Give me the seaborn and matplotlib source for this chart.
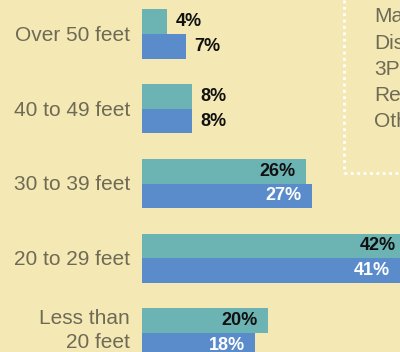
import matplotlib
matplotlib.use("Agg")
import matplotlib.pyplot as plt
from matplotlib.lines import Line2D
import seaborn as sns
import pandas as pd

# Boat length bands and the share of respondents in each, two survey groups
categories = ["Over 50 feet", "40 to 49 feet", "30 to 39 feet", "20 to 29 feet", "Less than\n20 feet"]
group_a = [4, 8, 26, 42, 20]
group_b = [7, 8, 27, 41, 18]
series_names = ["Group A", "Group B"]

# Entries of the side key
key_items = ["Manufacturer", "Distributor", "3PL", "Retailer", "Other"]

BG = "#f4e9b4"
TEAL = "#6cb3b3"
BLUE = "#5a8ccb"
GREY = "#6e6a55"

df = pd.DataFrame({
    "band": categories * 2,
    "share": group_a + group_b,
    "group": [series_names[0]] * len(categories) + [series_names[1]] * len(categories),
})

sns.set_theme(style="white")
plt.rcParams["font.family"] = ["Liberation Sans", "DejaVu Sans"]

W, H = 400, 352
fig = plt.figure(figsize=(W / 100, H / 100), dpi=100)
fig.patch.set_facecolor(BG)

x0 = 142
px_per_pct = 6.3
ax = fig.add_axes([x0 / W, 0, (W - x0) / W, 1])
ax.set_facecolor(BG)

sns.barplot(data=df, y="band", x="share", hue="group", order=categories,
            hue_order=series_names, palette=[TEAL, BLUE], orient="h",
            width=0.656, saturation=1, linewidth=0, legend=False, ax=ax)

ax.set_xlim(0, (W - x0) / px_per_pct)
step = 74.75
first_center = 34
ax.set_ylim((H - first_center) / step, -first_center / step)

for s in ax.spines.values():
    s.set_visible(False)
ax.set_xticks([])
ax.set_yticks([])
ax.set_xlabel("")
ax.set_ylabel("")

# Band names, right-aligned against the bars
pt = 72 / 100
for i, name in enumerate(categories):
    dy = 2.5 if "\n" in name else -1.5
    ax.annotate(name, xy=(0, i), xytext=(-12 * pt, dy * pt), textcoords="offset points",
                ha="right", va="center", multialignment="right", fontsize=15,
                color=GREY, linespacing=1.4, annotation_clip=False)

# Value labels: outside for short bars, inside otherwise
for container, values, inside_color in zip(ax.containers, [group_a, group_b], ["#111111", "white"]):
    for patch, v in zip(container.patches, values):
        yc = patch.get_y() + patch.get_height() / 2
        if v < 15:
            ax.annotate(f"{v}%", xy=(v, yc), xytext=(6, 0), textcoords="offset points",
                        ha="left", va="center", fontsize=13, fontweight="bold",
                        color="#111111", annotation_clip=False)
        else:
            ax.annotate(f"{v}%", xy=(v, yc), xytext=(-7.5, 0), textcoords="offset points",
                        ha="right", va="center", fontsize=13, fontweight="bold",
                        color=inside_color, annotation_clip=False)

# Dotted key box in the upper right
kx, ky = 344 / W, 1 - 173 / H
dot = dict(color="white", linewidth=2, linestyle=(0, (1, 1.3)), solid_capstyle="butt")
fig.add_artist(Line2D([kx, kx], [1, ky], transform=fig.transFigure, **dot))
fig.add_artist(Line2D([kx, 1], [ky, ky], transform=fig.transFigure, **dot))
for i, item in enumerate(key_items):
    fig.text(374 / W, 1 - (17 + i * 26.2) / H, item, fontsize=15, color=GREY,
             ha="left", va="center")

fig.savefig("out.png", dpi=100, facecolor=BG)
